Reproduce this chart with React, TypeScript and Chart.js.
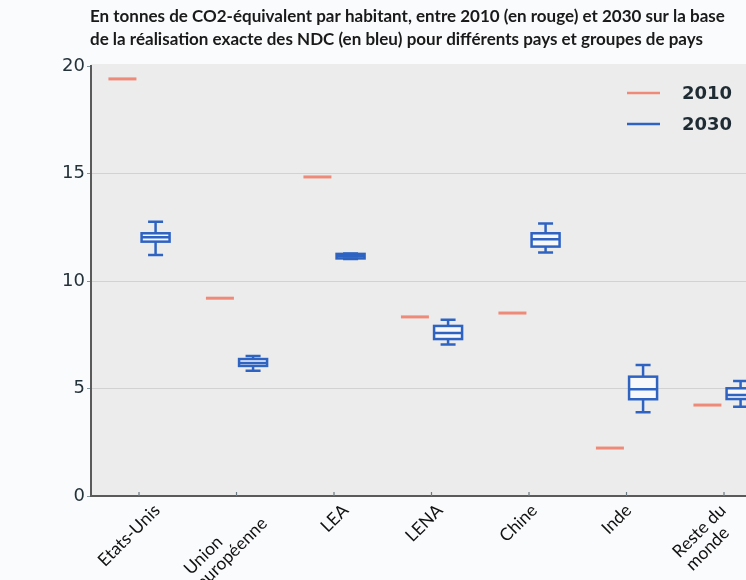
import { useEffect, useRef } from "react";
import { Chart, registerables } from "chart.js";

Chart.register(...registerables);

// ---- data ----
const categories: string[][] = [
  ["Etats-Unis"],
  ["Union", "européenne"],
  ["LEA"],
  ["LENA"],
  ["Chine"],
  ["Inde"],
  ["Reste du", "monde"],
];
const values2010 = [19.4, 9.2, 14.84, 8.33, 8.51, 2.23, 4.23];
const whiskerLow2030 = [11.21, 5.83, 11.02, 7.05, 11.32, 3.89, 4.15];
const q1_2030 = [11.83, 6.05, 11.05, 7.3, 11.6, 4.5, 4.51];
const median2030 = [12.03, 6.19, 11.15, 7.58, 11.94, 4.96, 4.7];
const q3_2030 = [12.22, 6.37, 11.26, 7.91, 12.22, 5.55, 5.01];
const whiskerHigh2030 = [12.76, 6.51, 11.28, 8.2, 12.68, 6.09, 5.35];
const yTicks = [0, 5, 10, 15, 20];
const legendLabels = ["2010", "2030"];
const titleLines = [
  "En tonnes de CO2-équivalent par habitant, entre 2010 (en rouge) et 2030 sur la base",
  "de la réalisation exacte des NDC (en bleu) pour différents pays et groupes de pays",
];

const RED = "#f08a78";
const BLUE = "#2f63c2";
const SHIFT = 0.17;
const LABEL_FONT = { family: "Lato", size: 17.5, lineHeight: 1.05 };

// pad shorter lines with trailing spaces so multi-line labels read left-aligned
let measureCtx: CanvasRenderingContext2D | null = null;
function leftAlignLines(lines: string[]): string[] {
  if (lines.length < 2) return lines;
  if (!measureCtx) measureCtx = document.createElement("canvas").getContext("2d");
  const m = measureCtx!;
  m.font = `${LABEL_FONT.size}px ${LABEL_FONT.family}`;
  const maxW = Math.max(...lines.map((l) => m.measureText(l).width));
  return lines.map((l) => {
    let s = l;
    while (m.measureText(s + " ").width <= maxW + 1) s += " ";
    return s;
  });
}

const boxPlugin = {
  id: "boxplotDraw",
  beforeDraw(chart: any) {
    const { ctx, chartArea } = chart;
    ctx.save();
    ctx.fillStyle = "#fafbfd";
    ctx.fillRect(0, 0, chart.width, chart.height);
    ctx.fillStyle = "#ececec";
    ctx.fillRect(chartArea.left, chartArea.top - 2, chartArea.right - chartArea.left, chartArea.bottom - chartArea.top + 2);
    ctx.restore();
  },
  afterDatasetsDraw(chart: any) {
    const { ctx, chartArea } = chart;
    const xs = chart.scales.x;
    const ys = chart.scales.y;
    ctx.save();
    ctx.strokeStyle = BLUE;
    ctx.lineWidth = 2.5;
    const halfBox = 14;
    const halfCap = 7.5;
    categories.forEach((_, i) => {
      const cx = xs.getPixelForValue(i + SHIFT);
      const yLow = ys.getPixelForValue(whiskerLow2030[i]);
      const yQ1 = ys.getPixelForValue(q1_2030[i]);
      const yMed = ys.getPixelForValue(median2030[i]);
      const yQ3 = ys.getPixelForValue(q3_2030[i]);
      const yHigh = ys.getPixelForValue(whiskerHigh2030[i]);
      ctx.fillStyle = "rgba(250,250,252,0.9)";
      ctx.fillRect(cx - halfBox, yQ3, halfBox * 2, yQ1 - yQ3);
      ctx.strokeRect(cx - halfBox, yQ3, halfBox * 2, yQ1 - yQ3);
      ctx.beginPath();
      ctx.moveTo(cx - halfBox, yMed);
      ctx.lineTo(cx + halfBox, yMed);
      ctx.moveTo(cx, yQ3);
      ctx.lineTo(cx, yHigh);
      ctx.moveTo(cx, yQ1);
      ctx.lineTo(cx, yLow);
      ctx.moveTo(cx - halfCap, yHigh);
      ctx.lineTo(cx + halfCap, yHigh);
      ctx.moveTo(cx - halfCap, yLow);
      ctx.lineTo(cx + halfCap, yLow);
      ctx.stroke();
    });
    ctx.strokeStyle = "#6a7a82";
    ctx.lineWidth = 1.2;
    categories.forEach((_, i) => {
      const tx = xs.getPixelForValue(i);
      ctx.beginPath();
      ctx.moveTo(tx, chartArea.bottom);
      ctx.lineTo(tx, chartArea.bottom - 4);
      ctx.stroke();
    });
    ctx.restore();
  },
  afterDraw(chart: any) {
    const { ctx } = chart;
    ctx.save();
    ctx.fillStyle = "#1a1a1a";
    ctx.font = 'bold 17px "Lato"';
    ctx.textBaseline = "middle";
    ctx.textAlign = "left";
    titleLines.forEach((t, i) => ctx.fillText(t, 90, 17 + i * 23));
    const colors = [RED, BLUE];
    ctx.font = 'bold 18px "DejaVu Sans"';
    legendLabels.forEach((lab, i) => {
      const y = 93 + i * 31;
      ctx.strokeStyle = colors[i];
      ctx.lineWidth = 2.5;
      ctx.beginPath();
      ctx.moveTo(627, y);
      ctx.lineTo(660, y);
      ctx.stroke();
      ctx.fillStyle = "#1f2b33";
      ctx.fillText(lab, 682, y + 1);
    });
    ctx.restore();
  },
};

export default function App() {
  const ref = useRef<HTMLCanvasElement | null>(null);
  useEffect(() => {
    if (!ref.current) return;
    const chart = new Chart(ref.current, {
      type: "scatter",
      data: {
        datasets: [
          {
            label: legendLabels[0],
            data: values2010.map((v, i) => ({ x: i - SHIFT, y: v })),
            pointStyle: "line",
            radius: 14,
            borderWidth: 3,
            borderColor: RED,
            backgroundColor: RED,
          },
        ],
      },
      plugins: [boxPlugin],
      options: {
        animation: false,
        responsive: false,
        events: [],
        layout: { autoPadding: false, padding: { top: 66, left: 0, right: 0, bottom: 0 } },
        plugins: { legend: { display: false }, tooltip: { enabled: false }, title: { display: false } },
        scales: {
          x: {
            type: "linear",
            position: "bottom",
            weight: 0,
            min: -0.4923,
            max: 6.2256,
            afterBuildTicks: (scale: any) => {
              scale.ticks = categories.map((_, i) => ({ value: i }));
            },
            afterFit: (scale: any) => {
              scale.height = 0;
              scale.paddingLeft = 0;
              scale.paddingRight = 0;
            },
            grid: { display: false, drawTicks: false },
            border: { display: true, color: "#5a5a5a", width: 2 },
            ticks: { display: false },
          },
          xLabels: {
            type: "linear",
            position: "bottom",
            weight: 1,
            min: -0.6999,
            max: 6.246,
            afterBuildTicks: (scale: any) => {
              scale.ticks = categories.map((_, i) => ({ value: i }));
            },
            afterFit: (scale: any) => {
              scale.height = 84;
              scale.paddingLeft = 0;
              scale.paddingRight = 0;
            },
            grid: { display: false, drawTicks: false },
            border: { display: false },
            ticks: {
              autoSkip: false,
              minRotation: 45,
              maxRotation: 45,
              padding: 5,
              labelOffset: 0,
              color: "#111111",
              font: LABEL_FONT,
              callback: (v: any) => {
                const lines = categories[v as number];
                return lines ? leftAlignLines(lines) : "";
              },
            },
          },
          y: {
            min: 0,
            max: 20,
            afterBuildTicks: (scale: any) => {
              scale.ticks = yTicks.map((v) => ({ value: v }));
            },
            afterFit: (scale: any) => {
              scale.width = 91;
            },
            grid: {
              color: (c: any) => (c.tick && (c.tick.value === 0 || c.tick.value === 20) ? "rgba(0,0,0,0)" : "#d2d2d2"),
              lineWidth: 1,
              tickColor: "#7f97a3",
              tickLength: 4,
            },
            border: { display: true, color: "#5a5a5a", width: 2 },
            ticks: {
              padding: 2,
              color: "#24323a",
              font: { family: "DejaVu Sans", size: 18 },
            },
          },
        },
      },
    });
    return () => chart.destroy();
  }, []);
  return (
    <div style={{ position: "absolute", left: 0, top: 0, width: 746, height: 580, overflow: "hidden" }}>
      <canvas ref={ref} width={746} height={580} style={{ width: 746, height: 580, display: "block" }} />
    </div>
  );
}
